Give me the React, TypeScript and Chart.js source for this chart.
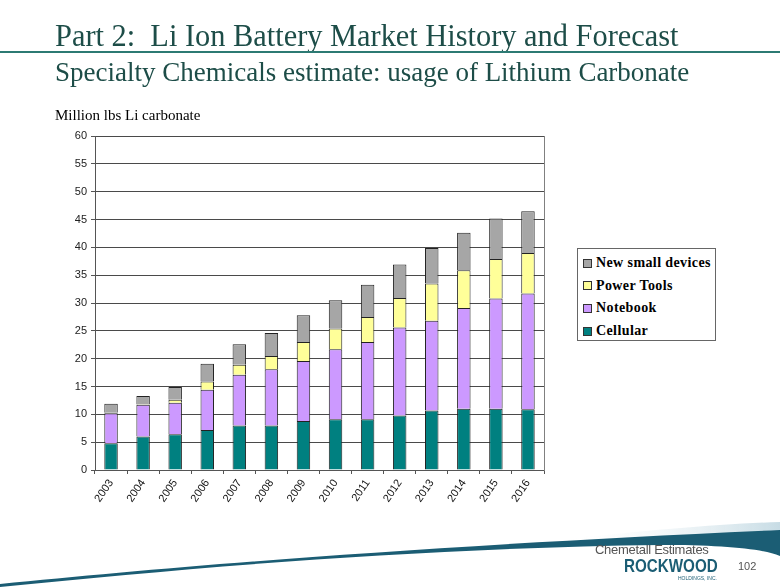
import React, { useEffect, useRef } from "react";
import { Chart, registerables } from "chart.js";

Chart.register(...registerables);

const categories = ["2003", "2004", "2005", "2006", "2007", "2008", "2009", "2010", "2011", "2012", "2013", "2014", "2015", "2016"];
const cellular = [4.8, 6.0, 6.4, 7.2, 8.0, 8.0, 8.8, 9.1, 9.1, 9.8, 10.7, 11.0, 11.0, 10.9];
const notebook = [5.4, 5.7, 5.7, 7.2, 9.1, 10.1, 10.8, 12.6, 13.9, 15.8, 16.1, 18.1, 19.8, 20.8];
const powerTools = [0.1, 0.1, 0.5, 1.5, 1.8, 2.4, 3.4, 3.7, 4.5, 5.3, 6.7, 6.8, 7.1, 7.3];
const newSmallDevices = [1.6, 1.5, 2.3, 3.2, 3.7, 4.1, 4.8, 5.1, 5.8, 6.0, 6.4, 6.7, 7.3, 7.5];
const yMin = 0;
const yMax = 60;
const yStep = 5;

const seriesNames = ["Cellular", "Notebook", "Power Tools", "New small devices"];
const seriesColors = ["#008080", "#CC99FF", "#FFFF99", "#A6A6A6"];

const TEAL_TEXT = "#1d4d48";

export default function App() {
  const canvasRef = useRef<HTMLCanvasElement | null>(null);

  useEffect(() => {
    const canvas = canvasRef.current;
    if (!canvas) return;
    const seriesData = [cellular, notebook, powerTools, newSmallDevices];
    const chart = new Chart(canvas, {
      type: "bar",
      data: {
        labels: categories,
        datasets: seriesData.map((d, i) => ({
          label: seriesNames[i],
          data: d,
          backgroundColor: seriesColors[i],
          borderColor: "#222222",
          borderWidth: 1,
          barPercentage: 0.42,
          categoryPercentage: 1,
        })),
      },
      options: {
        responsive: false,
        animation: false,
        events: [],
        layout: { padding: { left: 55, right: 236, top: 136, bottom: 67 } },
        plugins: { legend: { display: false }, tooltip: { enabled: false }, title: { display: false } },
        scales: {
          x: {
            stacked: true,
            grid: { display: true, drawOnChartArea: false, offset: true, tickLength: 4, color: "#555555" },
            border: { display: true, color: "#555555", width: 1 },
            ticks: {
              maxRotation: 56,
              minRotation: 56,
              padding: 3,
              color: "#111111",
              font: { family: "Liberation Sans", size: 11 },
            },
            afterFit: (scale: any) => {
              scale.height = 50;
            },
          },
          y: {
            stacked: true,
            min: yMin,
            max: yMax,
            ticks: {
              stepSize: yStep,
              padding: 4,
              color: "#222222",
              font: { family: "Liberation Sans", size: 11 },
            },
            grid: { color: "#4a4a4a", lineWidth: 1, tickLength: 4, tickColor: "#555555" },
            border: { display: true, color: "#555555", width: 1 },
            afterFit: (scale: any) => {
              scale.width = 40;
            },
          },
          y2: {
            position: "right",
            min: yMin,
            max: yMax,
            ticks: { display: false },
            grid: { drawOnChartArea: false, drawTicks: false },
            border: { display: true, color: "#808080", width: 1 },
            afterFit: (scale: any) => {
              scale.width = 0;
            },
          },
        },
      },
    });
    return () => chart.destroy();
  }, []);

  const legendItems = [3, 2, 1, 0];

  return (
    <div style={{ position: "fixed", left: 0, top: 0, width: 780, height: 587, background: "#ffffff", overflow: "hidden" }}>
      <canvas ref={canvasRef} width={780} height={587} style={{ position: "absolute", left: 0, top: 0, width: 780, height: 587 }} />
      <div
        style={{
          position: "absolute",
          left: 55,
          top: 19,
          fontFamily: "'Liberation Serif', serif",
          fontSize: 31,
          color: TEAL_TEXT,
          whiteSpace: "nowrap",
          lineHeight: "34px",
          transform: "scaleX(0.98)",
          transformOrigin: "left center",
        }}
      >
        Part 2:&nbsp; Li Ion Battery Market History and Forecast
      </div>
      <div style={{ position: "absolute", left: 0, top: 51, width: 780, height: 2, background: "#2c7a73" }} />
      <div
        style={{
          position: "absolute",
          left: 55,
          top: 57,
          fontFamily: "'Liberation Serif', serif",
          fontSize: 27,
          color: TEAL_TEXT,
          whiteSpace: "nowrap",
          lineHeight: "30px",
        }}
      >
        Specialty Chemicals estimate: usage of Lithium Carbonate
      </div>
      <div
        style={{
          position: "absolute",
          left: 55,
          top: 106,
          fontFamily: "'Liberation Serif', serif",
          fontSize: 15,
          color: "#000000",
          whiteSpace: "nowrap",
          lineHeight: "18px",
        }}
      >
        Million lbs Li carbonate
      </div>
      <div
        style={{
          position: "absolute",
          left: 577,
          top: 248,
          width: 139,
          height: 93,
          border: "1px solid #666666",
          background: "#ffffff",
          boxSizing: "border-box",
        }}
      >
        {legendItems.map((idx, r) => (
          <div
            key={idx}
            style={{
              position: "absolute",
              left: 5,
              top: 5 + r * 22.7,
              height: 18,
              display: "flex",
              alignItems: "center",
              whiteSpace: "nowrap",
            }}
          >
            <span
              style={{
                display: "inline-block",
                width: 7,
                height: 7,
                background: seriesColors[idx],
                border: "1px solid #333333",
                marginRight: 4,
              }}
            />
            <span
              style={{
                fontFamily: "'Liberation Serif', serif",
                fontWeight: "bold",
                fontSize: 14,
                color: "#000000",
                letterSpacing: "0.4px",
              }}
            >
              {seriesNames[idx]}
            </span>
          </div>
        ))}
      </div>
      <svg width={780} height={587} style={{ position: "absolute", left: 0, top: 0 }}>
        <defs>
          <linearGradient id="fade" x1="0" y1="0" x2="1" y2="0">
            <stop offset="0" stopColor="#ffffff" stopOpacity="0" />
            <stop offset="1" stopColor="#b9d3de" stopOpacity="0.8" />
          </linearGradient>
        </defs>
        <path d="M560,540 C650,530 720,524 780,522 L780,532 C700,534 630,538 560,542 Z" fill="url(#fade)" />
        <path
          d="M0,584 C180,566 420,546 780,530 L780,556 C760,548 720,545 660,545 C420,548 200,567 0,587 Z"
          fill="#1b5d74"
        />
      </svg>
      <div
        style={{
          position: "absolute",
          left: 595,
          top: 542,
          fontFamily: "'Liberation Sans', sans-serif",
          fontSize: 13,
          color: "#555555",
          whiteSpace: "nowrap",
          lineHeight: "15px",
          letterSpacing: "-0.3px",
        }}
      >
        Chemetall Estimates
      </div>
      <div
        style={{
          position: "absolute",
          left: 624,
          top: 556,
          fontFamily: "'Liberation Sans', sans-serif",
          fontWeight: "bold",
          fontSize: 19,
          color: "#1b5d74",
          whiteSpace: "nowrap",
          lineHeight: "20px",
          transform: "scaleX(0.8)",
          transformOrigin: "left center",
        }}
      >
        ROCKWOOD
      </div>
      <div
        style={{
          position: "absolute",
          left: 678,
          top: 575,
          fontFamily: "'Liberation Sans', sans-serif",
          fontSize: 5,
          color: "#1b5d74",
          whiteSpace: "nowrap",
          lineHeight: "6px",
        }}
      >
        HOLDINGS, INC.
      </div>
      <div
        style={{
          position: "absolute",
          left: 738,
          top: 560,
          fontFamily: "'Liberation Sans', sans-serif",
          fontSize: 11,
          color: "#555555",
          whiteSpace: "nowrap",
          lineHeight: "13px",
        }}
      >
        102
      </div>
    </div>
  );
}
